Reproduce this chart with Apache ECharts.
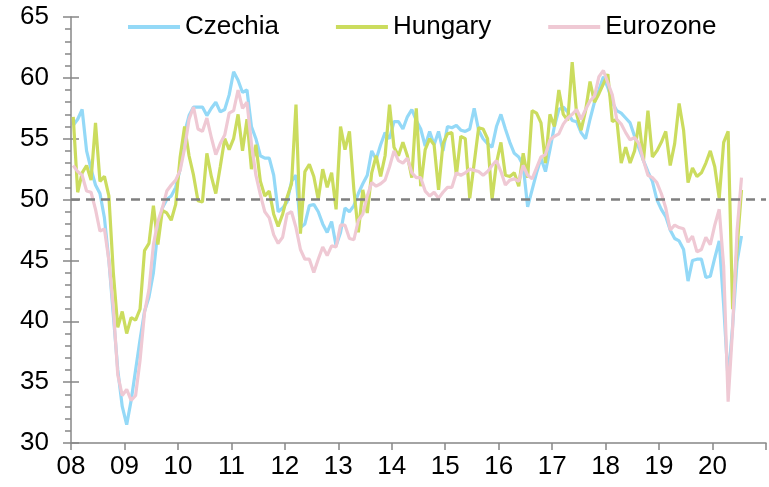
<!DOCTYPE html>
<html><head><meta charset="utf-8">
<script src="https://cdn.jsdelivr.net/npm/echarts@6/dist/echarts.min.js"></script>
<style>html,body{margin:0;padding:0;background:#fff}#c{width:769px;height:487px}</style>
</head><body><div id="c"></div>
<script>
// Monthly PMI, Jan 2008 .. Jul 2020
const startYear = 2008;
const endYear = 2021;
const yearLabels = ['08','09','10','11','12','13','14','15','16','17','18','19','20'];
const seriesNames = ['Czechia', 'Hungary', 'Eurozone'];
const czechia = [
  56.1,56.6,57.4,54.0,52.5,51.2,50.5,48.5,45.0,40.5,36.0,33.0,
  31.5,33.5,36.0,38.5,40.8,42.0,44.0,47.5,49.3,50.0,50.3,51.0,
  52.5,55.5,56.9,57.6,57.6,57.6,56.9,57.5,58.0,57.2,57.4,58.6,
  60.5,59.8,58.8,59.0,56.0,55.0,53.6,53.4,53.4,52.0,49.0,49.3,
  49.8,51.5,52.0,47.7,48.0,49.5,49.6,49.0,48.0,47.3,48.2,46.2,
  47.3,49.3,49.0,49.5,50.5,51.3,52.0,54.0,53.3,54.5,55.5,55.0,
  56.4,56.4,55.8,56.8,57.4,56.5,55.8,54.4,55.6,54.5,55.6,54.0,
  56.0,55.9,56.1,55.7,55.6,55.8,57.5,55.7,55.0,54.6,54.3,56.0,
  57.0,55.8,54.7,53.8,53.5,52.8,49.4,50.8,52.2,53.4,52.3,54.1,
  56.0,57.4,57.6,57.2,56.5,56.4,55.5,55.0,56.6,58.0,59.0,60.1,
  59.2,58.0,57.3,57.1,56.7,56.3,55.2,54.2,53.2,52.3,51.5,50.0,
  49.2,48.6,47.5,46.8,46.6,45.9,43.3,45.0,45.1,45.1,43.6,43.7,
  45.2,46.6,41.3,35.1,39.6,44.9,47.0
];
const hungary = [
  56.8,50.6,52.2,52.8,51.6,56.3,51.5,51.9,50.3,44.0,39.5,40.8,
  39.0,40.3,40.1,41.0,45.8,46.4,49.5,46.3,49.1,48.9,48.3,49.6,
  53.5,56.0,53.6,52.0,49.9,49.8,53.8,51.9,50.5,52.7,55.0,54.1,
  55.0,57.0,54.0,56.6,52.5,54.5,51.5,50.3,50.7,48.8,47.8,48.8,
  50.2,51.3,57.8,47.2,52.3,52.9,51.9,50.0,52.5,51.0,52.2,49.2,
  56.0,54.1,55.6,50.8,47.3,50.8,48.9,52.2,53.6,51.9,53.6,57.8,
  54.3,53.6,54.7,53.6,51.8,57.5,51.1,54.1,55.0,54.5,50.8,54.6,
  55.4,55.5,52.0,55.2,55.0,50.1,53.0,55.9,55.8,55.0,50.0,53.0,
  54.7,52.0,51.9,52.2,51.1,53.8,51.8,57.3,57.1,56.3,53.0,57.0,
  56.0,59.0,57.0,56.5,61.3,57.0,55.7,57.3,59.7,58.0,58.7,59.5,
  60.3,56.4,56.6,53.0,54.3,53.0,54.0,56.4,53.2,57.3,53.5,54.0,
  54.7,55.6,52.8,54.6,57.9,55.7,51.4,52.6,51.9,52.2,53.0,54.0,
  52.7,50.1,54.7,55.6,41.0,46.0,50.8
];
const eurozone = [
  52.8,52.3,52.0,50.7,50.6,49.2,47.4,47.6,45.0,41.1,35.6,33.9,
  34.4,33.5,33.9,36.8,40.7,42.6,46.3,48.2,49.3,50.7,51.2,51.6,
  52.4,54.2,56.6,57.6,55.8,55.6,56.7,55.1,53.7,54.6,55.3,57.1,
  57.3,59.0,57.5,58.0,54.6,52.0,50.4,49.0,48.5,47.1,46.4,46.9,
  48.8,49.0,47.7,45.9,45.1,45.1,44.0,45.1,46.1,45.4,46.2,46.1,
  47.9,47.9,46.8,46.7,48.3,48.8,50.3,51.4,51.1,51.3,51.6,52.7,
  54.0,53.2,53.0,53.4,52.2,51.8,51.8,50.7,50.3,50.6,50.1,50.6,
  51.0,51.0,52.2,52.0,52.2,52.5,52.4,52.3,52.0,52.3,52.8,53.2,
  52.3,51.2,51.6,51.7,51.5,52.8,52.0,51.7,52.6,53.5,53.7,54.9,
  55.2,55.4,56.2,56.7,57.0,57.4,56.6,57.4,58.1,58.5,60.1,60.6,
  59.6,58.6,56.6,56.2,55.5,54.9,55.1,54.6,53.2,52.0,51.8,51.4,
  50.5,49.3,47.5,47.9,47.7,47.6,46.5,47.0,45.7,45.9,46.9,46.3,
  47.9,49.2,44.5,33.4,39.4,47.4,51.8
];
const thresholdLevel = 50;
const yMin = 30, yMax = 65, yStep = 5;

const FONT = '"Liberation Sans", Arial, sans-serif';
const AXIS_GREY = '#878787';
const colors = ['#94d9f7', '#cbdc5e', '#efc9d4'];

function toPoints(vals) {
  return vals.map((v, i) => [startYear + (i + 0.5) / 12, v]);
}

const chart = echarts.init(document.getElementById('c'), null, {renderer: 'canvas'});
const lineSeries = [czechia, hungary, eurozone].map((vals, k) => ({
  name: seriesNames[k],
  type: 'line',
  data: toPoints(vals),
  symbol: 'none',
  showSymbol: false,
  smooth: false,
  color: colors[k],
  lineStyle: {width: 3.2, color: colors[k]},
  z: 2 + k
}));
lineSeries.push({
  type: 'line',
  data: [],
  z: 10,
  markLine: {
    silent: true,
    symbol: ['none', 'none'],
    label: {show: false},
    lineStyle: {color: '#7f7f7f', width: 2.5, type: [9, 6]},
    data: [{yAxis: thresholdLevel}],
    animation: false
  }
});

const yBase = {
  type: 'value', min: yMin, max: yMax, interval: yStep, position: 'left',
  splitLine: {show: false}
};

chart.setOption({
  animation: false,
  backgroundColor: '#ffffff',
  textStyle: {fontFamily: FONT},
  grid: {left: 71, right: 1, top: 17, bottom: 44, containLabel: false},
  legend: {
    data: seriesNames,
    left: 123, top: 9,
    icon: 'rect',
    itemWidth: 52, itemHeight: 4, itemGap: 57,
    textStyle: {fontSize: 26, color: '#000', fontFamily: FONT}
  },
  xAxis: {
    type: 'value', min: startYear, max: endYear, interval: 1,
    axisLine: {show: true, lineStyle: {color: AXIS_GREY, width: 1.5}},
    axisTick: {show: true, length: 7, lineStyle: {color: AXIS_GREY, width: 1.5}},
    axisLabel: {
      fontSize: 26, color: '#000', fontFamily: FONT, margin: 11,
      formatter: v => { const k = Math.round(v - startYear); return yearLabels[k] !== undefined ? yearLabels[k] : ''; }
    },
    splitLine: {show: false}
  },
  yAxis: [
    Object.assign({}, yBase, {
      axisLine: {show: true, lineStyle: {color: AXIS_GREY, width: 1.5}},
      axisTick: {show: true, length: 8, lineStyle: {color: AXIS_GREY, width: 1.5}},
      minorTick: {show: true, splitNumber: 5, length: 6, lineStyle: {color: AXIS_GREY, width: 1.5}},
      axisLabel: {fontSize: 26, color: '#000', fontFamily: FONT, margin: 22}
    }),
    Object.assign({}, yBase, {
      axisLine: {show: false},
      axisTick: {show: true, inside: true, length: 8, lineStyle: {color: AXIS_GREY, width: 1.5}},
      axisLabel: {show: false}
    })
  ],
  series: lineSeries
});
</script>
</body></html>
